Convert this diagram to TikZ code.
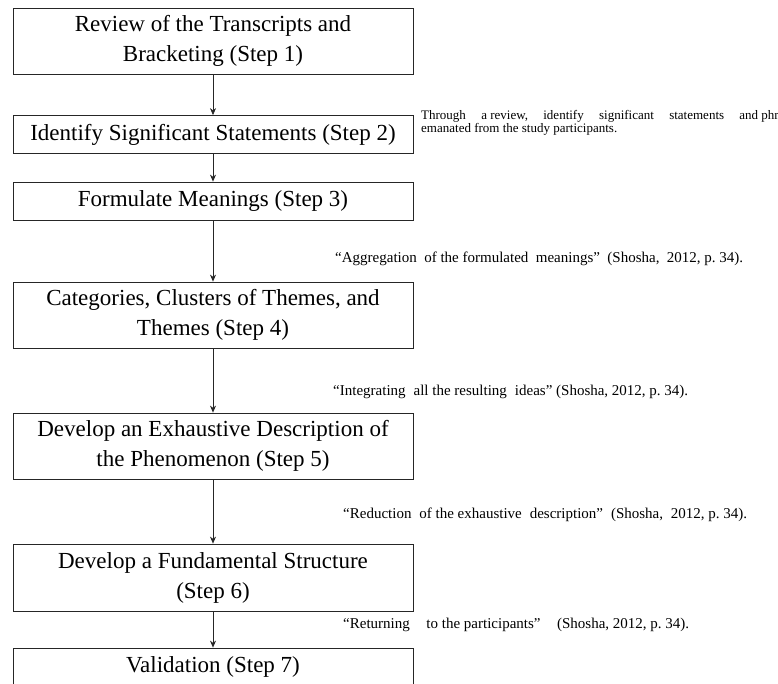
\documentclass[tikz,border=0pt]{standalone}
\usepackage{fontspec}
\setmainfont{Liberation Serif}
\usetikzlibrary{arrows.meta}
\frenchspacing
\begin{document}
\begin{tikzpicture}[>={Stealth[length=7pt,width=6pt]}, x=1pt, y=-1pt,
        stepbox/.style={draw=black!85, line width=0.8pt, minimum width=400pt, minimum height=38pt, inner sep=0pt, align=center, font=\fontsize{23}{30}\selectfont},
        note/.style={anchor=west, align=left, inner sep=0pt, font=\fontsize{15}{15}\selectfont}]
        \clip (0,0) rectangle (778,683);
        \node[stepbox, minimum height=66pt] (s1) at (213,41) {Review of the Transcripts and\\Bracketing (Step 1)};
        \node[stepbox] (s2) at (213,134.5) {Identify Significant Statements (Step 2)};
        \node[stepbox] (s3) at (213,201) {Formulate Meanings (Step 3)};
        \node[stepbox, minimum height=66pt] (s4) at (213,315) {Categories, Clusters of Themes, and\\Themes (Step 4)};
        \node[stepbox, minimum height=66pt] (s5) at (213,446) {Develop an Exhaustive Description of\\the Phenomenon (Step 5)};
        \node[stepbox, minimum height=67pt] (s6) at (213,577.5) {Develop a Fundamental Structure\\(Step 6)};
        \node[stepbox] (s7) at (213,667) {Validation (Step 7)};
        % arrows between the steps
        \foreach \a/\b in {s1/s2,s2/s3,s3/s4,s4/s5,s5/s6,s6/s7}
            \draw[->, line width=0.7pt, black!85] (\a) -- (\b);
        % notes on the right
        \node[note, font=\fontsize{13}{13}\selectfont] (n2) at (421,122.5) {\makebox[337pt][s]{Through\hfill\ a review,\hfill\ identify\hfill\ significant\hfill\ statements\hfill\ and}\ phrases that\\emanated from the study participants.};
        \node[note] (n3) at (335,259) {\makebox[408pt][s]{“Aggregation\hfill\ of the formulated\hfill\ meanings”\hfill\ (Shosha,\hfill\ 2012, p. 34).}};
        \node[note] (n4) at (333,392) {\makebox[355pt][s]{“Integrating\hfill\ all the resulting\hfill\ ideas” (Shosha, 2012, p. 34).}};
        \node[note] (n5) at (343,515) {\makebox[404pt][s]{“Reduction\hfill\ of the exhaustive\hfill\ description”\hfill\ (Shosha,\hfill\ 2012, p. 34).}};
        \node[note] (n6) at (343,625) {\makebox[346pt][s]{“Returning\hfill\ to the participants”\hfill\ (Shosha, 2012, p. 34).}};
    \end{tikzpicture}
\end{document}
